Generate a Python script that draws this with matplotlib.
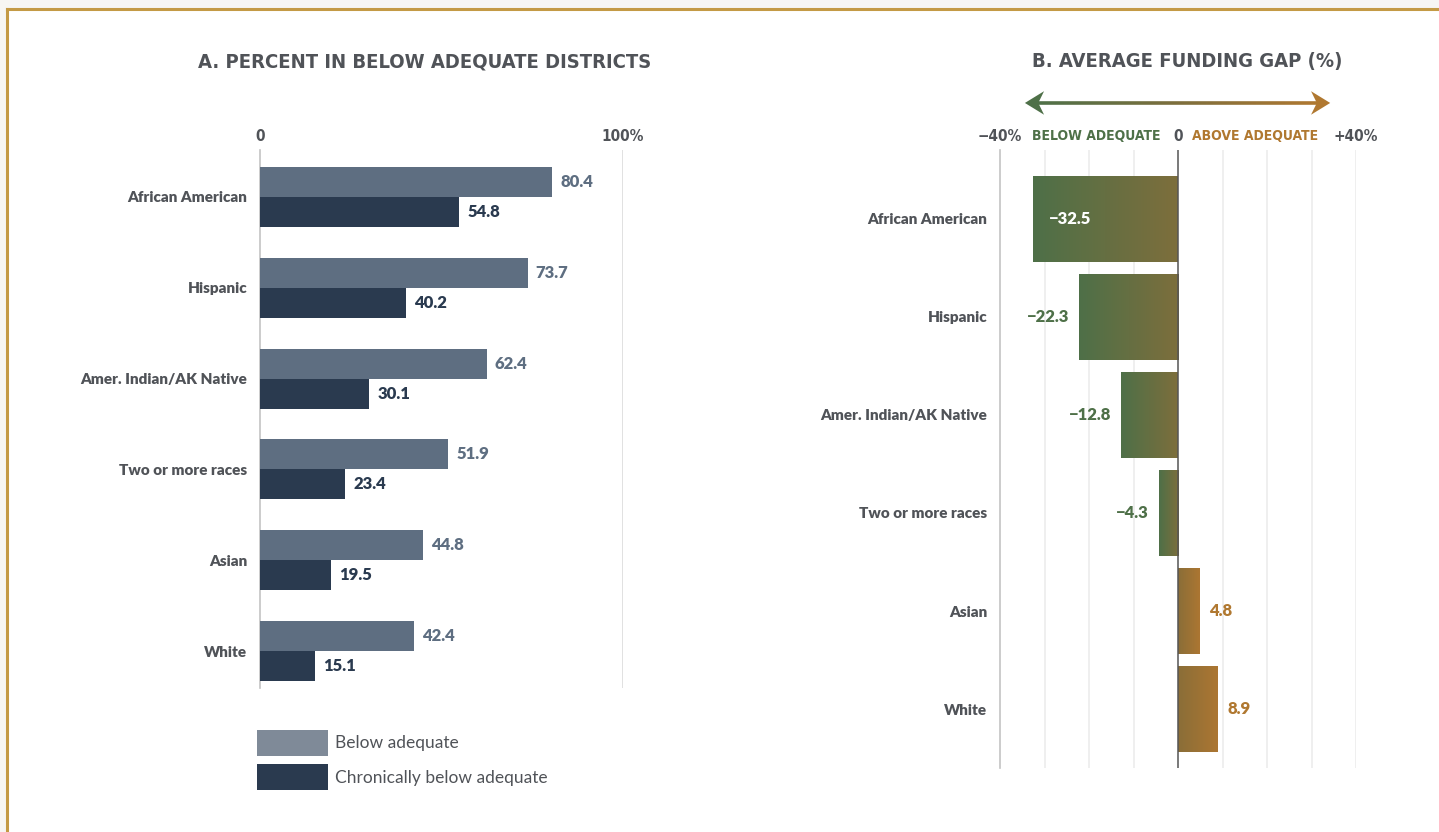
import matplotlib
matplotlib.use("Agg")
import matplotlib.pyplot as plt
import numpy as np
from matplotlib import font_manager
from matplotlib.patches import Patch, Polygon, Rectangle
from matplotlib.collections import LineCollection
from matplotlib.colors import LinearSegmentedColormap

groups = ["African American", "Hispanic", "Amer. Indian/AK Native",
          "Two or more races", "Asian", "White"]
below_adequate = [80.4, 73.7, 62.4, 51.9, 44.8, 42.4]
chronically_below = [54.8, 40.2, 30.1, 23.4, 19.5, 15.1]
funding_gap = [-32.5, -22.3, -12.8, -4.3, 4.8, 8.9]

names = {f.name for f in font_manager.fontManager.ttflist}
body_font = "Lato" if "Lato" in names else "DejaVu Sans"
if "Liberation Sans Narrow" in names:
    head_font, head_stretch = "Liberation Sans Narrow", "normal"
else:
    head_font, head_stretch = "DejaVu Sans", "condensed"
plt.rcParams["font.family"] = [body_font, "DejaVu Sans"]

GRAY_TXT = "#505358"
LIGHT = "#5e6e81"
DARK = "#2a3a4f"
GREEN = "#4e7048"
ORANGE = "#b07830"

W, H = 1439, 832
fig = plt.figure(figsize=(W / 100, H / 100), dpi=100, facecolor="#f7f6f3")

# white card with gold border (top + left)
fig.patches.append(Rectangle((7 / W, 0), 1, 1 - 9 / H, transform=fig.transFigure,
                             facecolor="white", edgecolor="none", zorder=-5))
fig.lines.append(plt.Line2D([7 / W, 1], [1 - 9 / H, 1 - 9 / H], transform=fig.transFigure,
                            color="#c49a45", lw=2.2, zorder=-4))
fig.lines.append(plt.Line2D([7 / W, 7 / W], [0, 1 - 9 / H], transform=fig.transFigure,
                            color="#c49a45", lw=2.2, zorder=-4))

# ---------------- panel A ----------------
axA = fig.add_axes([260 / W, 1 - 688 / H, 363 / W, 538 / H])
axA.set_facecolor("none")
y = np.arange(len(groups))
h = 0.33
bA1 = axA.barh(y - h / 2, below_adequate, height=h, color=LIGHT, zorder=3)
bA2 = axA.barh(y + h / 2, chronically_below, height=h, color=DARK, zorder=3)
for v, yy in zip(below_adequate, y - h / 2):
    axA.annotate(f"{v:.1f}", (v, yy), xytext=(6, 0), textcoords="offset points",
                 ha="left", va="center", fontsize=12, fontweight="heavy", color=LIGHT)
for v, yy in zip(chronically_below, y + h / 2):
    axA.annotate(f"{v:.1f}", (v, yy), xytext=(6, 0), textcoords="offset points",
                 ha="left", va="center", fontsize=12, fontweight="heavy", color=DARK)
axA.set_xlim(0, 100)
axA.set_ylim(5.407, -0.516)
axA.axvline(100, color="#dcdcdc", lw=1.2, zorder=1)
for s in ["top", "right", "bottom"]:
    axA.spines[s].set_visible(False)
axA.spines["left"].set_color("#c4c4c4")
axA.spines["left"].set_linewidth(1.2)
axA.set_yticks(y)
axA.set_yticklabels(groups, fontsize=11, fontweight="heavy", color=GRAY_TXT)
axA.tick_params(axis="y", length=0, pad=9)
axA.xaxis.tick_top()
axA.set_xticks([0, 100])
axA.set_xticklabels(["0", "100%"], fontsize=11, fontweight="bold", color=GRAY_TXT,
                    family=head_font, fontstretch=head_stretch)
axA.tick_params(axis="x", length=0, pad=4)

fig.text(425 / W, 1 - 62 / H, "A. PERCENT IN BELOW ADEQUATE DISTRICTS", ha="center",
         va="center", fontsize=14.5, fontweight="bold", color=GRAY_TXT,
         family=head_font, fontstretch=head_stretch)

axA.legend(handles=[Patch(facecolor="#7f8a98", label="Below adequate"),
                    Patch(facecolor=DARK, label="Chronically below adequate")],
           loc="upper left", bbox_to_anchor=(257 / W, 1 - 730 / H),
           bbox_transform=fig.transFigure, frameon=False, fontsize=12.5,
           handlelength=4.1, handleheight=1.9, labelspacing=0.5,
           handletextpad=0.4, borderpad=0, borderaxespad=0,
           labelcolor=GRAY_TXT)

# ---------------- panel B ----------------
axB = fig.add_axes([1000 / W, 1 - 768 / H, 356 / W, 618 / H])
axB.set_facecolor("none")
hb = 0.87
bars = axB.barh(y, funding_gap, height=hb, color="none", zorder=3)
neg_cmap = LinearSegmentedColormap.from_list("neg", [GREEN, "#7d6e3c"])
pos_cmap = LinearSegmentedColormap.from_list("pos", ["#8a6e38", "#ac7632"])
grad = np.linspace(0, 1, 256).reshape(1, -1)
for bar, v in zip(bars, funding_gap):
    xa, yb = bar.get_x(), bar.get_y()
    xb, yt = xa + bar.get_width(), yb + bar.get_height()
    x0, x1 = min(xa, xb), max(xa, xb)
    im = axB.imshow(grad, extent=(x0, x1, yt, yb), aspect="auto",
                    cmap=neg_cmap if v < 0 else pos_cmap, zorder=3)
    im.set_clip_path(bar)

for v, yy in zip(funding_gap, y):
    lab = f"\u2212{abs(v):.1f}" if v < 0 else f"{v:.1f}"
    if v < -30:
        axB.annotate(lab, (v, yy), xytext=(11, 0), textcoords="offset points",
                     ha="left", va="center", fontsize=12, fontweight="heavy",
                     color="white", zorder=5)
    elif v < 0:
        axB.annotate(lab, (v, yy), xytext=(-7, 0), textcoords="offset points",
                     ha="right", va="center", fontsize=12, fontweight="heavy", color=GREEN)
    else:
        axB.annotate(lab, (v, yy), xytext=(7, 0), textcoords="offset points",
                     ha="left", va="center", fontsize=12, fontweight="heavy", color=ORANGE)

axB.set_xlim(-40, 40)
axB.set_ylim(5.602, -0.704)
for gx in range(-30, 41, 10):
    if gx != 0:
        axB.axvline(gx, color="#ebebeb", lw=1.1, zorder=1)
axB.axvline(0, color="#555555", lw=1.1, zorder=4)
for s in ["top", "right", "bottom"]:
    axB.spines[s].set_visible(False)
axB.spines["left"].set_color("#c4c4c4")
axB.spines["left"].set_linewidth(1.2)
axB.set_yticks(y)
axB.set_yticklabels(groups, fontsize=11, fontweight="heavy", color=GRAY_TXT)
axB.tick_params(axis="y", length=0, pad=9)
axB.xaxis.tick_top()
axB.set_xticks([-40, 0, 40])
axB.set_xticklabels(["\u221240%", "0", "+40%"], fontsize=11, fontweight="bold",
                    color=GRAY_TXT, family=head_font, fontstretch=head_stretch)
axB.tick_params(axis="x", length=0, pad=4)
axB.text(-18.4, -0.85, "BELOW ADEQUATE", ha="center", va="center", fontsize=10,
         fontweight="heavy", color=GREEN, family=head_font, fontstretch=head_stretch)
axB.text(17.3, -0.85, "ABOVE ADEQUATE", ha="center", va="center", fontsize=10,
         fontweight="heavy", color=ORANGE, family=head_font, fontstretch=head_stretch)

# gradient double arrow
ay = -1.184
xs = np.linspace(-32, 32, 120)
segs = [[(xs[i], ay), (xs[i + 1], ay)] for i in range(len(xs) - 1)]
arrow_cmap = LinearSegmentedColormap.from_list("arr", [GREEN, "#7d6e3c", ORANGE])
lc = LineCollection(segs, cmap=arrow_cmap, linewidths=2.6, clip_on=False)
lc.set_array(np.linspace(0, 1, len(segs)))
axB.add_collection(lc)
for tip, sgn, col in [(-34.4, 1, GREEN), (34.2, -1, ORANGE)]:
    pts = [(tip, ay), (tip + sgn * 4.3, ay - 0.12), (tip + sgn * 3.0, ay),
           (tip + sgn * 4.3, ay + 0.12)]
    axB.add_patch(Polygon(pts, closed=True, facecolor=col, edgecolor="none",
                          clip_on=False))

fig.text(1187 / W, 1 - 62 / H, "B. AVERAGE FUNDING GAP (%)", ha="center", va="center",
         fontsize=14.5, fontweight="bold", color=GRAY_TXT,
         family=head_font, fontstretch=head_stretch)

fig.savefig("out.png", dpi=100, facecolor=fig.get_facecolor())
